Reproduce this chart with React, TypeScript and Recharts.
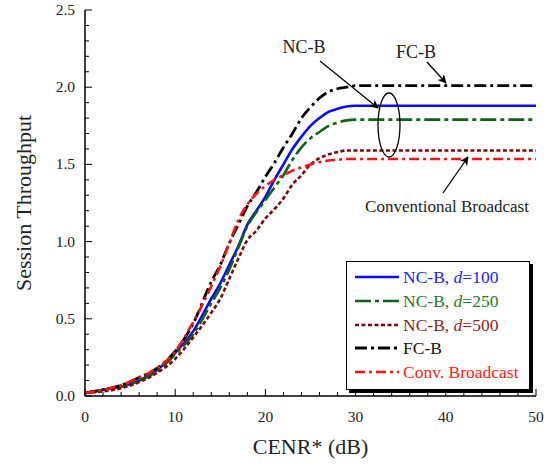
import React from "react";
import { LineChart, Line, XAxis, YAxis, Legend } from "recharts";

const cenr = [0, 2, 4, 6, 8, 10, 12, 14, 15, 16, 17, 18, 19, 20, 21, 22, 23, 24, 25, 26, 27, 28, 29, 30, 35, 40, 45, 50];
const ncb100 = [0.02, 0.04, 0.06, 0.1, 0.17, 0.28, 0.42, 0.63, 0.73, 0.85, 0.97, 1.11, 1.2, 1.29, 1.4, 1.5, 1.6, 1.68, 1.75, 1.8, 1.84, 1.86, 1.875, 1.88, 1.88, 1.88, 1.88, 1.88];
const ncb250 = [0.02, 0.04, 0.06, 0.1, 0.16, 0.27, 0.4, 0.6, 0.7, 0.82, 0.96, 1.1, 1.19, 1.27, 1.35, 1.43, 1.53, 1.61, 1.67, 1.71, 1.75, 1.77, 1.785, 1.79, 1.79, 1.79, 1.79, 1.79];
const ncb500 = [0.02, 0.03, 0.05, 0.09, 0.15, 0.24, 0.38, 0.54, 0.63, 0.76, 0.89, 1.01, 1.07, 1.15, 1.21, 1.28, 1.37, 1.43, 1.5, 1.54, 1.565, 1.58, 1.59, 1.59, 1.59, 1.59, 1.59, 1.59];
const fcb = [0.02, 0.04, 0.07, 0.12, 0.18, 0.29, 0.47, 0.74, 0.85, 0.99, 1.11, 1.23, 1.32, 1.42, 1.51, 1.61, 1.7, 1.8, 1.87, 1.93, 1.97, 1.99, 2.0, 2.01, 2.01, 2.01, 2.01, 2.01];
const conv = [0.02, 0.04, 0.07, 0.12, 0.18, 0.29, 0.48, 0.71, 0.84, 0.99, 1.14, 1.24, 1.31, 1.36, 1.4, 1.43, 1.46, 1.48, 1.5, 1.515, 1.525, 1.53, 1.535, 1.535, 1.535, 1.535, 1.535, 1.535];

const xTicks = [0, 2, 4, 6, 8, 10, 12, 14, 16, 18, 20, 22, 24, 26, 28, 30, 32, 34, 36, 38, 40, 42, 44, 46, 48, 50];
const yTicks = [0, 0.1, 0.2, 0.3, 0.4, 0.5, 0.6, 0.7, 0.8, 0.9, 1.0, 1.1, 1.2, 1.3, 1.4, 1.5, 1.6, 1.7, 1.8, 1.9, 2.0, 2.1, 2.2, 2.3, 2.4, 2.5];

const data = cenr.map((x, i) => ({
  x,
  ncb100: ncb100[i],
  ncb250: ncb250[i],
  ncb500: ncb500[i],
  fcb: fcb[i],
  conv: conv[i],
}));

const FONT = "'Liberation Serif', 'Times New Roman', serif";

const series = [
  { key: "ncb100", label: "NC-B, ", d: "100", color: "#0a0aff", text: "#1c1cf0", width: 2.6, dash: undefined },
  { key: "ncb250", label: "NC-B, ", d: "250", color: "#0f6414", text: "#1f7a26", width: 2.6, dash: "16 4 4 4" },
  { key: "ncb500", label: "NC-B, ", d: "500", color: "#7a0a0a", text: "#8c1f1f", width: 2.6, dash: "4 2.5" },
  { key: "fcb", label: "FC-B", d: "", color: "#000000", text: "#111111", width: 2.8, dash: "12 4 3 4" },
  { key: "conv", label: "Conv. Broadcast", d: "", color: "#ff1010", text: "#ff2020", width: 2.6, dash: "10 4 3 4" },
];

const XTick = ({ x, y, payload }: any) => {
  const major = payload.value % 10 === 0;
  return (
    <g>
      <line x1={x} x2={x} y1={y} y2={y - (major ? 7 : 4)} stroke="#000" strokeWidth={1} />
      {major && (
        <text x={x} y={y + 26} textAnchor="middle" fontSize={15.5} fontFamily={FONT} fill="#222">
          {payload.value}
        </text>
      )}
    </g>
  );
};

const YTick = ({ x, y, payload }: any) => {
  const major = Math.round(payload.value * 10) % 5 === 0;
  return (
    <g>
      <line x1={x} x2={x + (major ? 7 : 4)} y1={y} y2={y} stroke="#000" strokeWidth={1} />
      {major && (
        <text x={x - 10} y={y + 5} textAnchor="end" fontSize={15.5} fontFamily={FONT} fill="#222">
          {payload.value.toFixed(1)}
        </text>
      )}
    </g>
  );
};

const RTick = ({ x, y, payload }: any) => {
  const major = Math.round(payload.value * 10) % 5 === 0;
  return <line x1={x} x2={x - (major ? 7 : 4)} y1={y} y2={y} stroke="#000" strokeWidth={1} />;
};

const renderLegend = () => (
  <div
    style={{
      width: 184,
      height: 129,
      border: "1.5px solid #000",
      boxShadow: "3px 3px 0 #000",
      background: "#fff",
      boxSizing: "border-box",
      position: "relative",
      fontFamily: FONT,
    }}
  >
    {series.map((s, i) => (
      <div
        key={s.key}
        style={{ position: "absolute", left: 0, top: 5 + i * 23.8, height: 20, display: "flex", alignItems: "center" }}
      >
        <svg width={56} height={20}>
          <line x1={8} x2={52} y1={10} y2={10} stroke={s.color} strokeWidth={s.width} strokeDasharray={s.dash} />
        </svg>
        <span style={{ fontSize: 17.5, color: s.text, whiteSpace: "nowrap", lineHeight: "20px" }}>
          {s.label}
          {s.d && (
            <>
              <i>d</i>={s.d}
            </>
          )}
        </span>
      </div>
    ))}
  </div>
);

export default function App() {
  return (
    <div style={{ position: "absolute", left: 0, top: 0, width: 553, height: 466, background: "#fff" }}>
      <LineChart width={553} height={466} data={data} margin={{ top: 10, right: 17, bottom: 40, left: 25 }}>
        <XAxis
          dataKey="x"
          type="number"
          domain={[0, 50]}
          ticks={xTicks}
          interval={0}
          tickSize={0}
          tickMargin={0}
          height={30}
          tickLine={false}
          axisLine={{ stroke: "#000", strokeWidth: 1.5 }}
          tick={<XTick />}
          label={{ value: "CENR* (dB)", position: "bottom", offset: 12, fontSize: 22, fontFamily: FONT, fill: "#222" }}
        />
        <XAxis
          xAxisId="top"
          dataKey="x"
          type="number"
          domain={[0, 50]}
          orientation="top"
          height={0}
          tick={false}
          tickLine={false}
          axisLine={{ stroke: "#000", strokeWidth: 1.5 }}
        />
        <YAxis
          type="number"
          domain={[0, 2.5]}
          ticks={yTicks}
          interval={0}
          tickSize={0}
          tickMargin={0}
          width={60}
          tickLine={false}
          axisLine={{ stroke: "#000", strokeWidth: 1.5 }}
          tick={<YTick />}
          label={{
            value: "Session Throughput",
            angle: -90,
            position: "center",
            dx: -32,
            fontSize: 22,
            fontFamily: FONT,
            fill: "#222",
          }}
        />
        <YAxis
          yAxisId="right"
          type="number"
          domain={[0, 2.5]}
          ticks={yTicks}
          interval={0}
          orientation="right"
          tickSize={0}
          tickMargin={0}
          width={0}
          tickLine={false}
          axisLine={{ stroke: "#000", strokeWidth: 1.5 }}
          tick={<RTick />}
        />
        {series.map((s) => (
          <Line
            key={s.key}
            dataKey={s.key}
            name={s.key}
            type="monotone"
            stroke={s.color}
            strokeWidth={s.width}
            strokeDasharray={s.dash}
            dot={false}
            activeDot={false}
            isAnimationActive={false}
          />
        ))}
        <Legend
          layout="horizontal"
          verticalAlign="middle"
          align="center"
          content={renderLegend}
          wrapperStyle={{ left: 346, top: 261, width: 184, height: 129 }}
        />
      </LineChart>
      <svg
        width={553}
        height={466}
        style={{ position: "absolute", left: 0, top: 0, pointerEvents: "none" }}
      >
        <defs>
          <marker id="ah" viewBox="0 0 10 10" refX="9" refY="5" markerWidth="9" markerHeight="9" orient="auto-start-reverse" markerUnits="userSpaceOnUse">
            <path d="M0,0 L10,5 L0,10 L3,5 z" fill="#000" />
          </marker>
        </defs>
        <g fontFamily={FONT} fill="#222">
          <text x={304} y={53} textAnchor="middle" fontSize={18}>NC-B</text>
          <text x={416} y={58} textAnchor="middle" fontSize={18}>FC-B</text>
          <text x={447} y={212} textAnchor="middle" fontSize={17}>Conventional Broadcast</text>
        </g>
        <line x1={320} y1={61} x2={378} y2={108} stroke="#000" strokeWidth={1.3} markerEnd="url(#ah)" />
        <line x1={427} y1={62} x2={446} y2={83} stroke="#000" strokeWidth={1.3} markerEnd="url(#ah)" />
        <line x1={443} y1={193} x2={468} y2={157} stroke="#000" strokeWidth={1.3} markerEnd="url(#ah)" />
        <ellipse cx={389} cy={125} rx={11} ry={32} fill="none" stroke="#000" strokeWidth={1.3} />
      </svg>
    </div>
  );
}
